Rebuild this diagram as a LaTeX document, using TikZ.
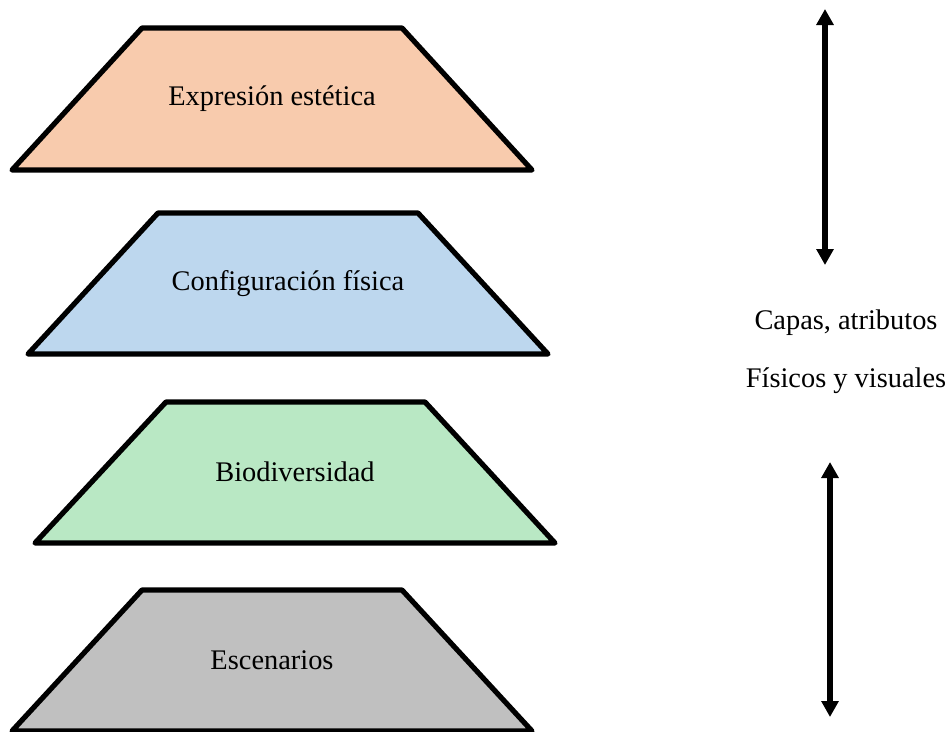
\documentclass[tikz,border=0pt]{standalone}
\usepackage{fontspec}
\setmainfont{Liberation Serif}
\usetikzlibrary{arrows.meta}
\definecolor{layerorange}{HTML}{F8CBAD}
\definecolor{layerblue}{HTML}{BDD7EE}
\definecolor{layergreen}{HTML}{B9E8C4}
\definecolor{layergray}{HTML}{C0C0C0}
\tikzset{
  layer/.style={draw=black, line width=3.9pt, line join=round},
  layertext/.style={font=\fontsize{21.3}{25}\selectfont, inner sep=0pt},
  sidetext/.style={font=\fontsize{21.3}{25}\selectfont, inner sep=0pt},
  span/.style={line width=4pt, {Triangle[width=12.5pt,length=12pt]}-{Triangle[width=12.5pt,length=12pt]}}
}
\begin{document}
\begin{tikzpicture}[x=0.75pt,y=-0.75pt]
\useasboundingbox (0,0) rectangle (950,732);

% stacked layers, top to bottom
\draw[layer, fill=layerorange] (142,28) -- (402,28) -- (532,170) -- (12,170) -- cycle;
\node[layertext] (expr) at (272,99) {Expresión estética};

\draw[layer, fill=layerblue] (158,213) -- (418,213) -- (548,354) -- (28,354) -- cycle;
\node[layertext] (conf) at (288,284) {Configuración física};

\draw[layer, fill=layergreen] (166,402) -- (425,402) -- (555,543) -- (35,543) -- cycle;
\node[layertext] (bio) at (295,472) {Biodiversidad};

\draw[layer, fill=layergray] (142,590) -- (402,590) -- (532,731) -- (12,731) -- cycle;
\node[layertext] (esc) at (272,660) {Escenarios};

% side labels
\node[sidetext] (capas) at (846,323) {Capas, atributos};
\node[sidetext] (fisicos) at (846,381) {Físicos y visuales};

% double-headed arrows
\coordinate (upA) at (825,9);
\coordinate (upB) at (825,265);
\coordinate (lowA) at (830,462);
\coordinate (lowB) at (830,717);
\draw[span] (upA) -- (upB);
\draw[span] (lowA) -- (lowB);
\end{tikzpicture}
\end{document}
